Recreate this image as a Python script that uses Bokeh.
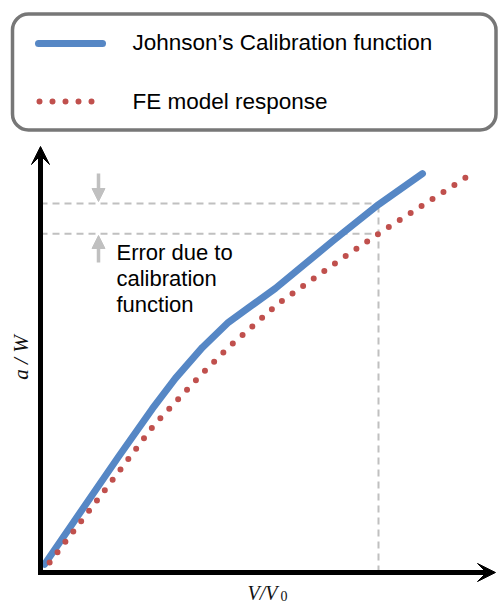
import math
from bokeh.plotting import figure
from bokeh.models import Range1d, Arrow, VeeHead, NormalHead, BoxAnnotation
from bokeh.core.properties import value
from bokeh.embed import file_html
from bokeh.resources import INLINE

# ---- data ----
vv0_johnson = [0.012, 0.231, 0.331, 0.399, 0.479, 0.556, 0.621, 0.695, 0.867, 1.000, 1.130]
aw_johnson = [0.022, 0.314, 0.444, 0.526, 0.610, 0.678, 0.721, 0.770, 0.900, 0.997, 1.081]

vv0_fe = [0.027, 0.172, 0.337, 0.473, 0.556, 0.704, 0.867, 1.000, 1.130, 1.263]
aw_fe = [0.027, 0.201, 0.401, 0.534, 0.610, 0.729, 0.835, 0.918, 0.995, 1.073]

x_ref = [1.0]            # V/V0 at which the error is shown
aw_ref_johnson = [1.0]   # a/W given by Johnson's calibration function
aw_ref_fe = [0.918]      # a/W given by FE model

legend_labels = ["Johnson\u2019s Calibration function", "FE model response"]
error_lines = ["Error due to", "calibration", "function"]
x_label = ["V/V", "0"]
y_label = ["a / W"]

BLUE = "#5687c5"
RED = "#c0504d"
GREY = "#c0c0c0"

W, H = 498, 604
# pixel mapping: origin at (40, 572), 338 px per x unit, 369 px per y unit
OX, OY, SX, SY = 40, 572, 338.0, 369.0


def X(px):
    return (px - OX) / SX


def Y(py):
    return (OY - py) / SY


p = figure(width=W, height=H, output_backend="svg", toolbar_location=None,
           x_range=Range1d(X(0), X(W)), y_range=Range1d(Y(H), Y(0)),
           min_border=0, outline_line_color=None)
p.axis.visible = False
p.grid.visible = False
p.background_fill_color = "white"
p.border_fill_color = "white"

# dashed reference lines
p.segment(x0=[0, 0], y0=[aw_ref_johnson[0], aw_ref_fe[0]],
          x1=[x_ref[0], x_ref[0]], y1=[aw_ref_johnson[0], aw_ref_fe[0]],
          line_color=GREY, line_width=2, line_dash="7 5")
p.segment(x0=x_ref, y0=[0], x1=x_ref, y1=aw_ref_johnson,
          line_color=GREY, line_width=2, line_dash="7 5")

# curves
p.line(vv0_johnson, aw_johnson, line_color=BLUE, line_width=7,
       line_cap="round", line_join="round")
p.line(vv0_fe, aw_fe, line_color=RED, line_width=6, line_dash="0 13",
       line_cap="round", line_join="round")

# axes with arrow heads
p.add_layout(Arrow(end=VeeHead(size=18, fill_color="black", line_color="black"),
                   x_start=0, y_start=Y(574.5), x_end=0, y_end=Y(146),
                   line_color="black", line_width=5))
p.add_layout(Arrow(end=VeeHead(size=18, fill_color="black", line_color="black"),
                   x_start=X(37.5), y_start=0, x_end=X(495), y_end=0,
                   line_color="black", line_width=5))

# small error arrows
p.add_layout(Arrow(end=NormalHead(size=13, fill_color=GREY, line_color=GREY),
                   x_start=X(98), y_start=Y(173), x_end=X(98), y_end=Y(201),
                   line_color=GREY, line_width=3.5))
p.add_layout(Arrow(end=NormalHead(size=13, fill_color=GREY, line_color=GREY),
                   x_start=X(98), y_start=Y(262), x_end=X(98), y_end=Y(235),
                   line_color=GREY, line_width=3.5))

# error text
for i, t in enumerate(error_lines):
    p.text(x=[X(116)], y=[Y(252 + 26 * i)], text=[t],
           text_font=value("Liberation Sans"), text_font_size="22px",
           text_color="black", text_baseline="alphabetic", text_align="left")

# axis labels
p.text(x=[X(247)], y=[Y(592)], text=[x_label[0]], text_font=value("Liberation Serif"),
       text_font_style="italic", text_font_size="20px", text_color="#111111",
       text_baseline="alphabetic", text_align="left")
p.text(x=[X(280)], y=[Y(595)], text=[x_label[1]], text_font=value("Liberation Serif"),
       text_font_size="14px", text_color="#111111",
       text_baseline="alphabetic", text_align="left")
p.text(x=[X(20)], y=[Y(357)], text=y_label, text_font=value("Liberation Serif"),
       text_font_style="italic", text_font_size="21px", text_color="#111111",
       text_baseline="middle", text_align="center", angle=math.pi / 2)

# legend box
p.add_layout(BoxAnnotation(left=X(12), right=X(495.5), top=Y(13.5), bottom=Y(129.5),
                           fill_color="white", fill_alpha=1.0,
                           line_color="#777777", line_width=3.5, line_alpha=1.0,
                           border_radius=16, level="underlay"))
p.line([X(38), X(102)], [Y(43), Y(43)], line_color=BLUE, line_width=7,
       line_cap="round")
p.line([X(39), X(96)], [Y(101), Y(101)], line_color=RED, line_width=6,
       line_dash="0 13", line_cap="round")
p.text(x=[X(132), X(132)], y=[Y(42), Y(101)], text=legend_labels,
       text_font=value("Liberation Sans"), text_font_size="22.5px",
       text_color="black", text_baseline="alphabetic", text_align="left")

open("out.html", "w").write(file_html(p, INLINE))
